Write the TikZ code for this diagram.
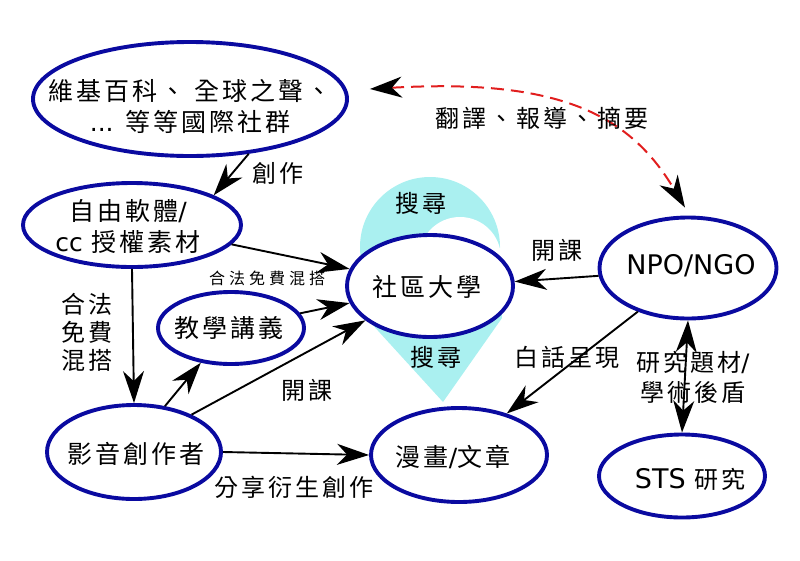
\documentclass[tikz,border=0pt]{standalone}
\usepackage{fontspec}
\setmainfont{DejaVu Sans}
\newfontfamily\cjk[LetterSpace=12]{Noto Sans CJK TC}
\newfontfamily\cjks[LetterSpace=25]{Noto Sans CJK TC}
\newfontfamily\lat{DejaVu Sans}
\usetikzlibrary{arrows.meta,shapes.geometric}
\definecolor{bubline}{RGB}{10,10,160}
\definecolor{cyanfill}{RGB}{170,240,240}
\definecolor{reddash}{RGB}{225,30,30}
\begin{document}
\begin{tikzpicture}[x=1pt,y=-1pt,
  bub/.style={ellipse, draw=bubline, line width=3.9pt, fill=white, inner sep=0pt},
  txt/.style={inner sep=0pt, align=center, font=\cjk\fontsize{25}{31}\selectfont},
  lbl/.style={inner sep=0pt, align=center, font=\cjk\fontsize{24}{29}\selectfont},
  conn/.style={line width=1.9pt, -{Stealth[length=32pt,width=21pt,inset=10pt]}},
]
\useasboundingbox (0,0) rectangle (800,560);

% cyan search drop
\fill[cyanfill] (430,247) circle[radius=70];
\fill[cyanfill] (443,402) -- (370,322) -- (361,252) -- (499,252) -- (502,318) -- cycle;
\fill[white] (460,258) circle[radius=41];

% ellipses
\node[bub, minimum width=314pt, minimum height=114pt] (wiki) at (190,99) {};
\node[bub, minimum width=218pt, minimum height=84pt] (free) at (132,225) {};
\node[bub, minimum width=146pt, minimum height=72pt] (lect) at (231,328) {};
\node[bub, minimum width=166pt, minimum height=102pt] (cc) at (430,286) {};
\node[bub, minimum width=174pt, minimum height=94pt] (av) at (134,452) {};
\node[bub, minimum width=176pt, minimum height=94pt] (comic) at (459,455) {};
\node[bub, minimum width=177pt, minimum height=101pt] (npo) at (688,268) {};
\node[bub, minimum width=166pt, minimum height=83pt] (sts) at (682,476) {};

% ellipse texts
\node[txt] (wikit) at (190,106) {維基百科、 全球之聲、\\{\lat\fontsize{25}{31}\selectfont ...} 等等國際社群};
\node[txt] (freet) at (128,226) {自由軟體{\lat /}\\{\lat cc} 授權素材};
\node[txt] (lectt) at (229,328) {教學講義};
\node[txt] (cct) at (427,287) {社區大學};
\node[txt] (avt) at (136,454) {影音創作者};
\node[txt] (comict) at (453,457) {漫畫{\lat /}文章};
\node[inner sep=0pt, font=\lat\fontsize{27}{32}\selectfont] (npot) at (691,266) {NPO/NGO};
\node[inner sep=0pt, font=\lat\fontsize{27}{32}\selectfont] (stst) at (690,479) {STS {\cjk\fontsize{24}{28}\selectfont 研究}};

% connectors
\draw[conn] (wiki.-43.5) -- (free.20.6);
\draw[conn] (free.-11.2) -- (cc.168.3);
\draw[conn] (free.south) -- (av.north);
\draw[conn] (lect.12.6) -- (cc.192);
\draw[conn] (av.56.3) -- (lect.-131.5);
\draw[conn] (av.33) -- (cc.-152);
\draw[conn] (av.east) -- (comic.west);
\draw[conn] (npo.-175.5) -- (cc.3.7);
\draw[conn] (npo.-139.2) -- (comic.41);
\draw[line width=1.9pt, {Stealth[length=32pt,width=21pt,inset=10pt]}-{Stealth[length=32pt,width=21pt,inset=10pt]}] (npo.south) -- (sts.north);
\draw[reddash, line width=2pt, dash pattern=on 13pt off 7pt,
  {Stealth[length=32pt,width=21pt,inset=10pt,black]}-{Stealth[length=32pt,width=21pt,inset=10pt,black]}]
  ([shift={(21,-10)}]wiki.east) .. controls (560,78) and (630,115) .. ([shift={(-3,-8)}]npo.north);

% labels
\node[lbl] (l1) at (278,173) {創作};
\node[inner sep=0pt, font=\cjks\fontsize{16}{20}\selectfont] (l2) at (267,278) {合法免費混搭};
\node[lbl, font=\cjk\fontsize{24}{28}\selectfont] (l3) at (87,332) {合法\\免費\\混搭};
\node[lbl] (l4) at (307,390) {開課};
\node[lbl] (l5) at (294,487) {分享衍生創作};
\node[lbl] (l6) at (557,250) {開課};
\node[lbl] (l7) at (567,357) {白話呈現};
\node[lbl, font=\cjk\fontsize{24}{30}\selectfont] (l8) at (693,377) {研究題材{\lat /}\\學術後盾};
\node[lbl] (l9) at (542,118) {翻譯、報導、摘要};
\node[lbl] (l10) at (421,203) {搜尋};
\node[lbl] (l11) at (436,357) {搜尋};
\end{tikzpicture}
\end{document}
